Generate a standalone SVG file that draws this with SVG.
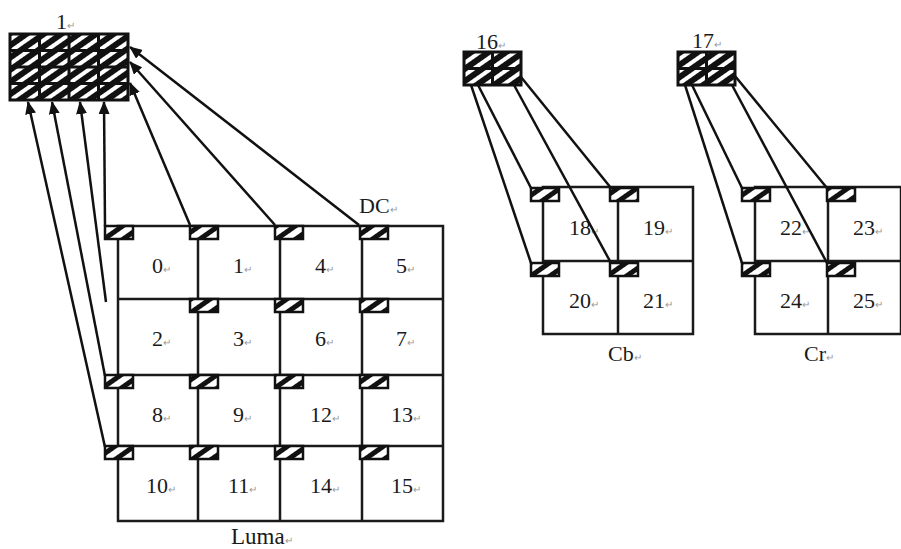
<svg xmlns="http://www.w3.org/2000/svg" width="901" height="549" viewBox="0 0 901 549">
<defs>
<pattern id="hatch" patternUnits="userSpaceOnUse" width="11" height="11" patternTransform="rotate(55)">
<rect width="11" height="11" fill="#fff"/>
<rect width="5" height="11" fill="#111"/>
</pattern>
<pattern id="hatchD" patternUnits="userSpaceOnUse" width="10" height="10" patternTransform="rotate(55)">
<rect width="10" height="10" fill="#fff"/>
<rect width="6" height="10" fill="#111"/>
</pattern>
<marker id="ah" markerWidth="13" markerHeight="11" refX="12" refY="5.5" orient="auto" markerUnits="userSpaceOnUse">
<path d="M0,0 L13,5.5 L0,11 Z" fill="#111"/>
</marker>
</defs>
<style>
text{font-family:"Liberation Serif","Times New Roman",serif;font-size:22px;fill:#1a1a1a}
.rm{font-size:10px;fill:#999}
.grid{fill:none;stroke:#1a1a1a;stroke-width:2.5}
.dc{fill:url(#hatch);stroke:#111;stroke-width:2.5}
.big{stroke:#111;stroke-width:3}
.cn{stroke:#111;stroke-width:2.5;fill:none}
.ar{stroke:#111;stroke-width:2.5;fill:none;marker-end:url(#ah)}
</style>
<rect width="901" height="549" fill="#fff"/>

<!-- Luma DC block -->
<g id="luma-dc">
<rect x="10" y="34" width="118" height="66" fill="url(#hatchD)"/>
<g class="big" fill="none">
<rect x="10" y="34" width="118" height="66"/>
<line x1="39.5" y1="34" x2="39.5" y2="100"/>
<line x1="69" y1="34" x2="69" y2="100"/>
<line x1="98.5" y1="34" x2="98.5" y2="100"/>
<line x1="10" y1="50.5" x2="128" y2="50.5"/>
<line x1="10" y1="67" x2="128" y2="67"/>
<line x1="10" y1="83.5" x2="128" y2="83.5"/>
</g>
<text x="56" y="29">1<tspan class="rm">↵</tspan></text>
</g>

<!-- Luma grid -->
<g id="luma">
<rect class="grid" x="118" y="226" width="325" height="295"/>
<line class="grid" x1="198" y1="226" x2="198" y2="521"/>
<line class="grid" x1="280" y1="226" x2="280" y2="521"/>
<line class="grid" x1="362" y1="226" x2="362" y2="521"/>
<line class="grid" x1="118" y1="299" x2="443" y2="299"/>
<line class="grid" x1="118" y1="375" x2="443" y2="375"/>
<line class="grid" x1="118" y1="446" x2="443" y2="446"/>
<g id="luma-boxes">
<rect class="dc" x="105" y="226" width="28" height="13"/>
<rect class="dc" x="190" y="226" width="28" height="13"/>
<rect class="dc" x="275" y="226" width="28" height="13"/>
<rect class="dc" x="360" y="226" width="28" height="13"/>
<rect class="dc" x="190" y="299" width="28" height="13"/>
<rect class="dc" x="275" y="299" width="28" height="13"/>
<rect class="dc" x="360" y="299" width="28" height="13"/>
<rect class="dc" x="105" y="375" width="28" height="13"/>
<rect class="dc" x="190" y="375" width="28" height="13"/>
<rect class="dc" x="275" y="375" width="28" height="13"/>
<rect class="dc" x="360" y="375" width="28" height="13"/>
<rect class="dc" x="105" y="446" width="28" height="13"/>
<rect class="dc" x="190" y="446" width="28" height="13"/>
<rect class="dc" x="275" y="446" width="28" height="13"/>
<rect class="dc" x="360" y="446" width="28" height="13"/>
</g>
<text x="152" y="273">0<tspan class="rm">↵</tspan></text>
<text x="233" y="273">1<tspan class="rm">↵</tspan></text>
<text x="315" y="273">4<tspan class="rm">↵</tspan></text>
<text x="396" y="273">5<tspan class="rm">↵</tspan></text>
<text x="152" y="346">2<tspan class="rm">↵</tspan></text>
<text x="233" y="346">3<tspan class="rm">↵</tspan></text>
<text x="315" y="346">6<tspan class="rm">↵</tspan></text>
<text x="396" y="346">7<tspan class="rm">↵</tspan></text>
<text x="152" y="422">8<tspan class="rm">↵</tspan></text>
<text x="233" y="422">9<tspan class="rm">↵</tspan></text>
<text x="310" y="422">12<tspan class="rm">↵</tspan></text>
<text x="391" y="422">13<tspan class="rm">↵</tspan></text>
<text x="146" y="493">10<tspan class="rm">↵</tspan></text>
<text x="228" y="493">11<tspan class="rm">↵</tspan></text>
<text x="310" y="493">14<tspan class="rm">↵</tspan></text>
<text x="391" y="493">15<tspan class="rm">↵</tspan></text>
<text x="359" y="213">DC<tspan class="rm">↵</tspan></text>
<text x="231" y="544" style="font-size:23px">Luma<tspan class="rm">↵</tspan></text>
</g>

<!-- Cb -->
<g id="cb-dc">
<rect x="464" y="52" width="57" height="33" fill="url(#hatchD)"/>
<g class="big" fill="none">
<rect x="464" y="52" width="57" height="33"/>
<line x1="492.5" y1="52" x2="492.5" y2="85"/>
<line x1="464" y1="68.5" x2="521" y2="68.5"/>
</g>
<text x="476" y="49">16<tspan class="rm">↵</tspan></text>
</g>
<g id="cb">
<rect class="grid" x="543" y="187" width="150" height="147"/>
<line class="grid" x1="618" y1="187" x2="618" y2="334"/>
<line class="grid" x1="543" y1="261" x2="693" y2="261"/>
<rect class="dc" x="531" y="188" width="28" height="13"/>
<rect class="dc" x="610" y="188" width="28" height="13"/>
<rect class="dc" x="531" y="263" width="28" height="13"/>
<rect class="dc" x="610" y="263" width="28" height="13"/>
<text x="569" y="235">18<tspan class="rm">↵</tspan></text>
<text x="643" y="235">19<tspan class="rm">↵</tspan></text>
<text x="569" y="308">20<tspan class="rm">↵</tspan></text>
<text x="643" y="308">21<tspan class="rm">↵</tspan></text>
<text x="608" y="361">Cb<tspan class="rm">↵</tspan></text>
</g>

<!-- Cr -->
<g id="cr-dc">
<rect x="678" y="52" width="57" height="33" fill="url(#hatchD)"/>
<g class="big" fill="none">
<rect x="678" y="52" width="57" height="33"/>
<line x1="706.5" y1="52" x2="706.5" y2="85"/>
<line x1="678" y1="68.5" x2="735" y2="68.5"/>
</g>
<text x="692" y="48">17<tspan class="rm">↵</tspan></text>
</g>
<g id="cr">
<rect class="grid" x="755" y="187" width="146" height="147"/>
<line class="grid" x1="828" y1="187" x2="828" y2="334"/>
<line class="grid" x1="755" y1="261" x2="901" y2="261"/>
<rect class="dc" x="742" y="188" width="28" height="13"/>
<rect class="dc" x="827" y="188" width="28" height="13"/>
<rect class="dc" x="742" y="263" width="28" height="13"/>
<rect class="dc" x="827" y="263" width="28" height="13"/>
<text x="780" y="235">22<tspan class="rm">↵</tspan></text>
<text x="853" y="235">23<tspan class="rm">↵</tspan></text>
<text x="780" y="308">24<tspan class="rm">↵</tspan></text>
<text x="853" y="308">25<tspan class="rm">↵</tspan></text>
<text x="804" y="361">Cr<tspan class="rm">↵</tspan></text>
</g>

<!-- connectors -->
<g id="connectors">
<line class="ar" x1="105" y1="447" x2="28" y2="102"/>
<line class="ar" x1="105" y1="376" x2="52" y2="102"/>
<line class="ar" x1="106" y1="302" x2="80" y2="102"/>
<line class="ar" x1="105" y1="226" x2="104" y2="102"/>
<line class="ar" x1="190" y1="225" x2="130" y2="83"/>
<line class="ar" x1="275" y1="225" x2="130" y2="62"/>
<line class="ar" x1="359" y1="225" x2="130" y2="47"/>
<line class="cn" x1="471" y1="85" x2="531" y2="263"/>
<line class="cn" x1="478" y1="85" x2="531" y2="188"/>
<line class="cn" x1="514" y1="85" x2="611" y2="263"/>
<line class="cn" x1="521" y1="77" x2="611" y2="188"/>
<line class="cn" x1="685" y1="85" x2="742" y2="263"/>
<line class="cn" x1="692" y1="85" x2="742" y2="188"/>
<line class="cn" x1="732" y1="85" x2="827" y2="263"/>
<line class="cn" x1="735" y1="76" x2="827" y2="188"/>
</g>
</svg>
